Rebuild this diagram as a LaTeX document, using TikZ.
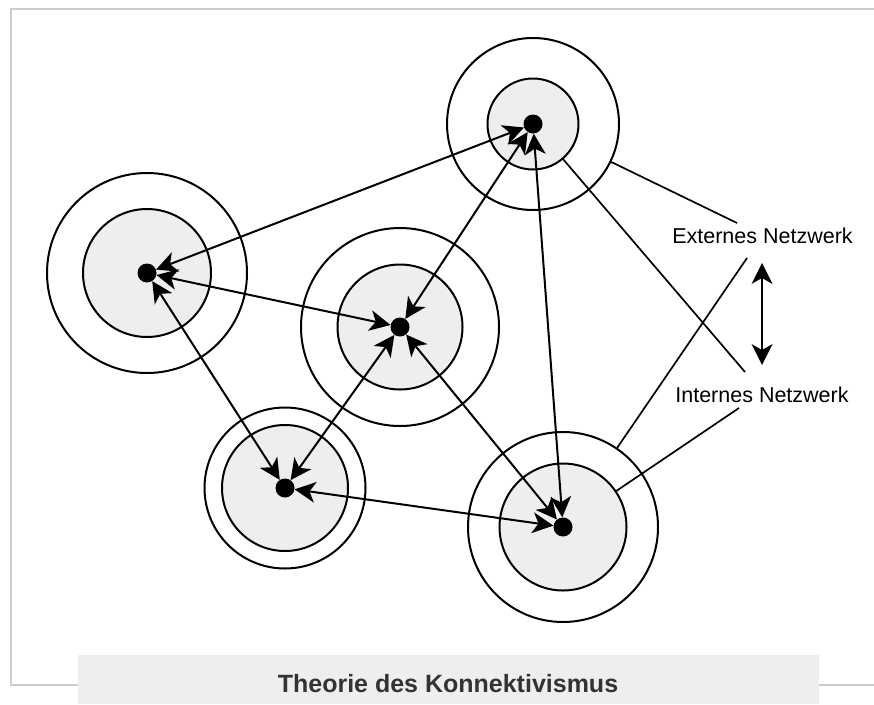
\documentclass[tikz,border=0pt]{standalone}
\usepackage{fontspec}
\setmainfont{Liberation Sans}
\usetikzlibrary{arrows.meta}
\definecolor{framegray}{HTML}{CCCCCC}
\definecolor{corefill}{HTML}{EEEEEE}
\definecolor{captionfill}{HTML}{EEEEEE}
\definecolor{captiontext}{HTML}{333333}
\begin{document}
\begin{tikzpicture}[x=1pt,y=-1pt,
  ring/.style={circle,draw=black,line width=2pt,inner sep=0pt,minimum size=#1},
  core/.style={circle,draw=black,fill=corefill,line width=2pt,inner sep=0pt,minimum size=#1},
  hub/.style={circle,fill=black,inner sep=0pt,minimum size=19pt},
  head/.tip={Stealth[length=21pt,width=21pt,inset=6pt,line width=0pt]},
  link/.style={line width=2pt,head-head},
  leader/.style={line width=1.7pt},
  lbl/.style={anchor=base,font=\fontsize{21.5}{26}\selectfont},
  caption/.style={anchor=base,text=captiontext,font=\bfseries\fontsize{25}{30}\selectfont}]
\useasboundingbox (0,0) rectangle (874,704);
\clip (0,0) rectangle (874,704);

% outer frame
\draw[framegray,line width=2pt] (880,8.5) -- (11,8.5) -- (11,685) -- (880,685);

% nodes: outer ring (external network), inner disc (internal network), hub
\node[ring=172] (o1) at (533,124) {};
\node[core=91]  (i1) at (533,124) {};
\node[ring=200] (o2) at (147,273) {};
\node[core=128] (i2) at (147,273) {};
\node[ring=198] (o3) at (400,327) {};
\node[core=125] (i3) at (400,327) {};
\node[ring=161] (o4) at (285,488) {};
\node[core=126] (i4) at (285,488) {};
\node[ring=190] (o5) at (563,527) {};
\node[core=127] (i5) at (563,527) {};

\node[hub] (d1) at (533,124) {};
\node[hub] (d2) at (147,273) {};
\node[hub] (d3) at (400,327) {};
\node[hub] (d4) at (285,488) {};
\node[hub] (d5) at (563,527) {};

% connections between hubs
\draw[link] (d1) -- (d2);
\draw[link] (d1) -- (d3);
\draw[link] (d1) -- (d5);
\draw[link] (d2) -- (d3);
\draw[link] (d2) -- (d4);
\draw[link] (d3) -- (d4);
\draw[link] (d3) -- (d5);
\draw[link] (d4) -- (d5);

% legend
\node[lbl] (ext) at (762.5,243) {Externes Netzwerk};
\node[lbl] (int) at (762,402) {Internes Netzwerk};
\coordinate (extA) at (737,223);
\coordinate (extB) at (747,258);
\coordinate (intA) at (745,372);
\coordinate (intB) at (739,408);
\draw[leader] (o1) -- (extA);
\draw[leader] (o5) -- (extB);
\draw[leader] (i1) -- (intA);
\draw[leader] (i5) -- (intB);
\coordinate (up) at (762,263);
\coordinate (down) at (762,365);
\draw[link] (up) -- (down);

% caption bar
\fill[captionfill] (78,655) rectangle (819,704);
\node[caption] (cap) at (448,692) {Theorie des Konnektivismus};
\end{tikzpicture}
\end{document}
